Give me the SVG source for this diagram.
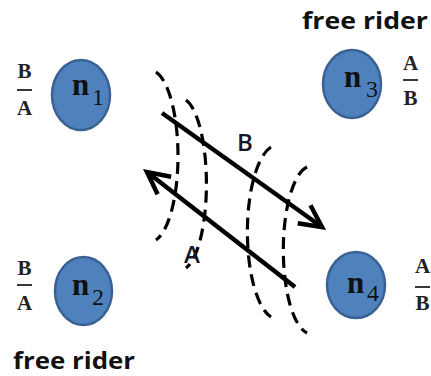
<svg xmlns="http://www.w3.org/2000/svg" width="431" height="376" viewBox="0 0 431 376">
<style>
.node{fill:#4f81bd;stroke:#3a6194;stroke-width:2.5}
.nl{font-family:"Liberation Serif",serif;font-weight:bold;font-size:31px;fill:#111}
.sub{font-family:"Liberation Serif",serif;font-weight:normal;font-size:24px;fill:#111}
.fr{font-family:"Liberation Serif",serif;font-weight:bold;font-size:21px;fill:#222;text-anchor:middle}
.fl{stroke:#222;stroke-width:1.8}
.free{font-family:"Open Sans",sans-serif;font-weight:bold;font-size:24px;fill:#111}
.lab{font-family:"Open Sans",sans-serif;font-weight:600;font-size:24px;fill:#15152a}
.arr{stroke:#000;stroke-width:4.5;fill:none;stroke-linecap:butt}
.dash{stroke:#000;stroke-width:3.2;fill:none;stroke-dasharray:12 7}
</style>
<defs>
<marker id="head" markerUnits="userSpaceOnUse" markerWidth="40" markerHeight="40" viewBox="-30 -20 40 40" refX="0" refY="0" orient="auto">
<path d="M-22,-11 L0,0 L-22,11" fill="none" stroke="#000" stroke-width="4.5" stroke-linejoin="miter"/>
</marker>
</defs>
<g id="connectors">
<path class="dash" d="M156,72 A28,86 0 0 1 156,240"/>
<path class="dash" d="M186,100 A26,86 0 0 1 186,268"/>
<path class="dash" d="M271,147 A30,87 0 0 0 271,317"/>
<path class="dash" d="M307,167 A28,84 0 0 0 307,333"/>
<line class="arr" x1="162" y1="113" x2="322" y2="227" marker-end="url(#head)"/>
<line class="arr" x1="295" y1="287" x2="147" y2="172" marker-end="url(#head)"/>
<text class="lab" x="237" y="151">B</text>
<text class="lab" x="184" y="263">A</text>
</g>
<g id="n1">
<ellipse class="node" cx="81" cy="95" rx="29" ry="35"/>
<text class="nl" x="72" y="95">n</text>
<text class="sub" x="92" y="105">1</text>
<text class="fr" x="24.5" y="78">B</text>
<line class="fl" x1="17" y1="90" x2="32" y2="90"/>
<text class="fr" x="24.5" y="115">A</text>
</g>
<g id="n2">
<ellipse class="node" cx="83.5" cy="291" rx="28.5" ry="34"/>
<text class="nl" x="72" y="295">n</text>
<text class="sub" x="92" y="305">2</text>
<text class="fr" x="24.5" y="275">B</text>
<line class="fl" x1="17" y1="285" x2="32" y2="285"/>
<text class="fr" x="24.5" y="310">A</text>
<text class="free" x="13" y="369" textLength="122" lengthAdjust="spacingAndGlyphs">free rider</text>
</g>
<g id="n3">
<ellipse class="node" cx="352" cy="84" rx="29" ry="34"/>
<text class="nl" x="344" y="87">n</text>
<text class="sub" x="366" y="97">3</text>
<text class="fr" x="410.5" y="70">A</text>
<line class="fl" x1="403" y1="80" x2="418" y2="80"/>
<text class="fr" x="410.5" y="105">B</text>
<text class="free" x="302" y="29" textLength="126" lengthAdjust="spacingAndGlyphs">free rider</text>
</g>
<g id="n4">
<ellipse class="node" cx="356" cy="285" rx="29" ry="33"/>
<text class="nl" x="347" y="293">n</text>
<text class="sub" x="367" y="301">4</text>
<text class="fr" x="422.5" y="273">A</text>
<line class="fl" x1="415" y1="287" x2="430" y2="287"/>
<text class="fr" x="422.5" y="310">B</text>
</g>
</svg>
